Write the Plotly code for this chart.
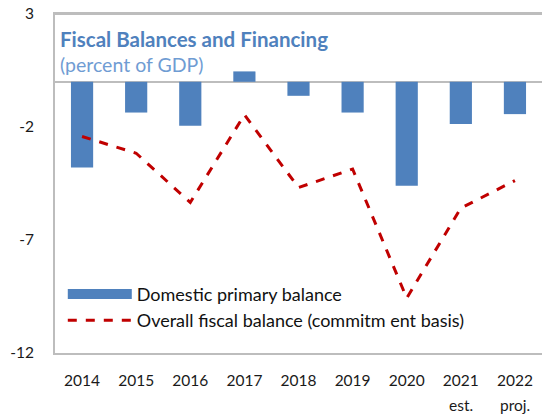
import plotly.graph_objects as go

years = ["2014", "2015", "2016", "2017", "2018", "2019", "2020", "2021", "2022"]
year_notes = {"2021": "est.", "2022": "proj."}
domestic_primary = [-3.79, -1.36, -1.95, 0.46, -0.62, -1.36, -4.60, -1.87, -1.43]
overall_balance = [-2.42, -3.16, -5.34, -1.46, -4.68, -3.86, -9.57, -5.59, -4.37]
y_ticks = [3, -2, -7, -12]
y_tick_text = ["3", "-2", "-7", "-12"]

FONT = "Lato, 'Open Sans', sans-serif"
BLUE = "#4F81BD"
RED = "#C00000"
FRAME = "#BDBDBD"

fig = go.Figure()
fig.add_trace(go.Bar(
    x=years, y=domestic_primary, name="Domestic primary balance",
    marker=dict(color=BLUE, line=dict(width=0)), showlegend=False,
))
# legend proxy for the bar series (wide swatch)
fig.add_trace(go.Scatter(
    x=[None], y=[None], mode="lines", name="Domestic primary balance",
    line=dict(color=BLUE, width=11),
))
fig.add_trace(go.Scatter(
    x=years, y=overall_balance, mode="lines",
    name="Overall fiscal balance (commitm ent basis)",
    line=dict(color=RED, width=3, dash="dash"),
))

annotations = [
    dict(text="<b>Fiscal Balances and Financing</b>", xref="paper", yref="paper",
         x=0.006, y=0.926, xanchor="left", yanchor="middle", showarrow=False,
         font=dict(family=FONT, size=20.5, color=BLUE)),
    dict(text="(percent of GDP)", xref="paper", yref="paper",
         x=0.006, y=0.850, xanchor="left", yanchor="middle", showarrow=False,
         font=dict(family=FONT, size=19.5, color="#6F9CD3")),
]
for yr, note in year_notes.items():
    annotations.append(dict(
        text=note, xref="x", yref="paper", x=years.index(yr), y=-0.153,
        xanchor="center", yanchor="middle", showarrow=False,
        font=dict(family=FONT, size=15.5, color="#1a1a1a"),
    ))

fig.update_layout(
    width=542, height=416,
    margin=dict(l=55, r=0, t=14, b=63, autoexpand=False),
    paper_bgcolor="white", plot_bgcolor="white",
    font=dict(family=FONT, size=15, color="#1a1a1a"),
    bargap=0.59,
    showlegend=True,
    legend=dict(
        x=0.016, y=0.228, xanchor="left", yanchor="top",
        bgcolor="rgba(0,0,0,0)", font=dict(family=FONT, size=18, color="#111111"),
        itemwidth=64, tracegroupgap=0, traceorder="normal",
    ),
    xaxis=dict(
        type="category", categoryorder="array", categoryarray=years,
        showgrid=False, showline=True, linecolor=FRAME, linewidth=2, mirror="all",
        ticks="", ticklabelstandoff=12, automargin=False,
        tickfont=dict(family=FONT, size=15.5, color="#1a1a1a"),
        range=[-0.5, 8.5],
    ),
    yaxis=dict(
        range=[-12, 3], tickvals=y_ticks, ticktext=y_tick_text,
        showgrid=False, zeroline=True, zerolinecolor=FRAME, zerolinewidth=2,
        showline=True, linecolor=FRAME, linewidth=2, mirror=False,
        ticks="", ticklabelstandoff=16, automargin=False,
        tickfont=dict(family=FONT, size=15.5, color="#1a1a1a"),
    ),
    shapes=[
        dict(type="line", xref="paper", yref="paper", x0=0, x1=1, y0=1, y1=1,
             line=dict(color=FRAME, width=2), layer="above"),
    ],
    annotations=annotations,
)

fig.write_html(
    "out.html",
    config={"displayModeBar": False},
    post_script="document.body.style.margin='0';document.body.style.padding='0';"
                "document.body.style.overflow='hidden';",
)
